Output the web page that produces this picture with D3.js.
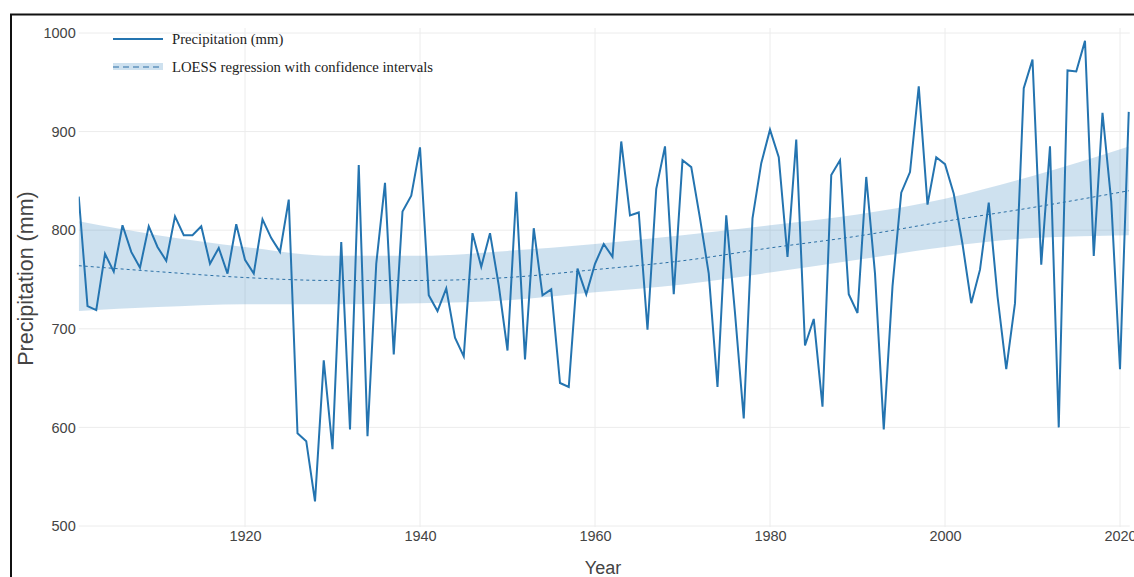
<!DOCTYPE html>
<html>
<head>
<meta charset="utf-8">
<script src="https://cdn.jsdelivr.net/npm/d3@7"></script>
<style>
  html, body { margin: 0; padding: 0; background: #fff; }
  svg { display: block; }
</style>
</head>
<body>
<svg id="chart" width="1134" height="577"></svg>
<script>
// ---- data ----
const years = d3.range(1901, 2022);
const precipitation = [
  834, 723, 719, 776, 758, 805, 778, 762, 804, 783,   // 1901-1910
  769, 814, 795, 795, 804, 766, 782, 756, 806, 770,   // 1911-1920
  756, 811, 792, 778, 831, 594, 586, 525, 668, 578,   // 1921-1930
  788, 598, 866, 591, 766, 848, 674, 819, 835, 884,   // 1931-1940
  734, 718, 741, 691, 672, 797, 763, 797, 744, 678,   // 1941-1950
  839, 669, 802, 734, 740, 645, 641, 761, 735, 766,   // 1951-1960
  786, 773, 890, 815, 818, 699, 842, 885, 735, 871,   // 1961-1970
  864, 812, 756, 641, 815, 716, 609, 812, 868, 902,   // 1971-1980
  874, 773, 892, 683, 710, 621, 856, 871, 735, 716,   // 1981-1990
  854, 756, 598, 743, 838, 859, 946, 826, 874, 867,   // 1991-2000
  837, 786, 726, 760, 828, 733, 659, 726, 944, 973,   // 2001-2010
  765, 885, 600, 962, 961, 992, 774, 919, 829, 659,   // 2011-2020
  920                                                 // 2021
];
const loessYears = [1901, 1910, 1920, 1930, 1940, 1950, 1960, 1970, 1980, 1990, 2000, 2010, 2021];
const loessFit   = [764, 758, 752, 749, 749, 752, 760, 769, 782, 794, 809, 823, 840];
const loessUpper = [809, 795, 783, 774, 774, 779, 786, 795, 805, 816, 832, 855, 885];
const loessLower = [718, 722, 725, 725, 726, 729, 737, 745, 757, 770, 783, 792, 795];
const xTicks = [1920, 1940, 1960, 1980, 2000, 2020];
const yTicks = [500, 600, 700, 800, 900, 1000];
const legendLabels = ["Precipitation (mm)", "LOESS regression with confidence intervals"];

(function () {
// ---- layout ----
const svg = d3.select("#chart");
const W = 1134, H = 577;
const mLeft = 78.75, mRight = 1128.75, mTop = 33, mBottom = 526;
const lineColor = "#2474b0";

const x = d3.scaleLinear().domain([1901, 2021]).range([mLeft, mRight]);
const y = d3.scaleLinear().domain([500, 1000]).range([mBottom, mTop]);

// frame border
svg.append("rect").attr("x", 11).attr("y", 14.5).attr("width", W + 20).attr("height", H + 20)
  .attr("fill", "none").attr("stroke", "#111").attr("stroke-width", 2);

// grid
const grid = svg.append("g");
grid.selectAll("line.h").data(yTicks).join("line").attr("class", "h")
  .attr("x1", mLeft).attr("x2", mRight + 1)
  .attr("y1", d => y(d)).attr("y2", d => y(d))
  .attr("stroke", "#ececec").attr("stroke-width", 1);
grid.selectAll("line.v").data(xTicks).join("line").attr("class", "v")
  .attr("x1", d => x(d)).attr("x2", d => x(d))
  .attr("y1", mTop - 5).attr("y2", mBottom + 1)
  .attr("stroke", "#ececec").attr("stroke-width", 1);

// axes (labels only)
const yAxis = d3.axisLeft(y).tickValues(yTicks).tickFormat(d3.format("d")).tickSize(0).tickPadding(0);
const gy = svg.append("g").attr("transform", `translate(${mLeft - 3},0)`).call(yAxis);
gy.select(".domain").remove();
gy.selectAll("text").attr("font-family", "Liberation Sans, Arial, sans-serif")
  .attr("font-size", 14.5).attr("fill", "#444");

const xAxis = d3.axisBottom(x).tickValues(xTicks).tickFormat(d3.format("d")).tickSize(0).tickPadding(0);
const gx = svg.append("g").attr("transform", `translate(0,${mBottom + 5})`).call(xAxis);
gx.select(".domain").remove();
gx.selectAll("text").attr("font-family", "Liberation Sans, Arial, sans-serif")
  .attr("font-size", 14.5).attr("fill", "#444");

// axis titles
svg.append("text").attr("x", 603).attr("y", 574)
  .attr("text-anchor", "middle").attr("font-family", "Liberation Sans, Arial, sans-serif")
  .attr("font-size", 18).attr("fill", "#444").text("Year");
svg.append("text").attr("transform", `translate(33,${(mTop + mBottom) / 2 - 1}) rotate(-90)`)
  .attr("text-anchor", "middle").attr("font-family", "Liberation Sans, Arial, sans-serif")
  .attr("font-size", 21.5).attr("fill", "#444").text("Precipitation (mm)");

// clip
svg.append("clipPath").attr("id", "clip").append("rect")
  .attr("x", mLeft).attr("y", 0).attr("width", mRight - mLeft + 2).attr("height", mBottom + 10);
const plot = svg.append("g").attr("clip-path", "url(#clip)");

// confidence band
const bandData = loessYears.map((yr, i) => ({ yr, lo: loessLower[i], hi: loessUpper[i], fit: loessFit[i] }));
plot.append("path").datum(bandData)
  .attr("d", d3.area().curve(d3.curveMonotoneX).x(d => x(d.yr)).y0(d => y(d.lo)).y1(d => y(d.hi)))
  .attr("fill", "rgba(31,119,180,0.22)");
plot.append("path").datum(bandData)
  .attr("d", d3.line().curve(d3.curveMonotoneX).x(d => x(d.yr)).y(d => y(d.fit)))
  .attr("fill", "none").attr("stroke", "#2a6fa5").attr("stroke-width", 1)
  .attr("stroke-dasharray", "3,3");

// precipitation line
const series = years.map((yr, i) => ({ yr, v: precipitation[i] }));
plot.append("path").datum(series)
  .attr("d", d3.line().x(d => x(d.yr)).y(d => y(d.v)))
  .attr("fill", "none").attr("stroke", lineColor).attr("stroke-width", 2)
  .attr("stroke-linejoin", "miter");

// legend
const lg = svg.append("g");
lg.append("line").attr("x1", 113).attr("x2", 163).attr("y1", 39).attr("y2", 39)
  .attr("stroke", lineColor).attr("stroke-width", 2);
lg.append("rect").attr("x", 113).attr("y", 63).attr("width", 50).attr("height", 7)
  .attr("fill", "rgba(31,119,180,0.22)");
lg.append("line").attr("x1", 113).attr("x2", 163).attr("y1", 67).attr("y2", 67)
  .attr("stroke", "#2a6fa5").attr("stroke-width", 1.2).attr("stroke-dasharray", "6,4");
lg.selectAll("text.lbl").data(legendLabels).join("text").attr("class", "lbl")
  .attr("x", 172).attr("y", (d, i) => 43.5 + i * 28.5)
  .attr("font-family", "Liberation Serif, Times New Roman, serif")
  .attr("font-size", 14.7).attr("fill", "#222").text(d => d);
})();
</script>
</body>
</html>
